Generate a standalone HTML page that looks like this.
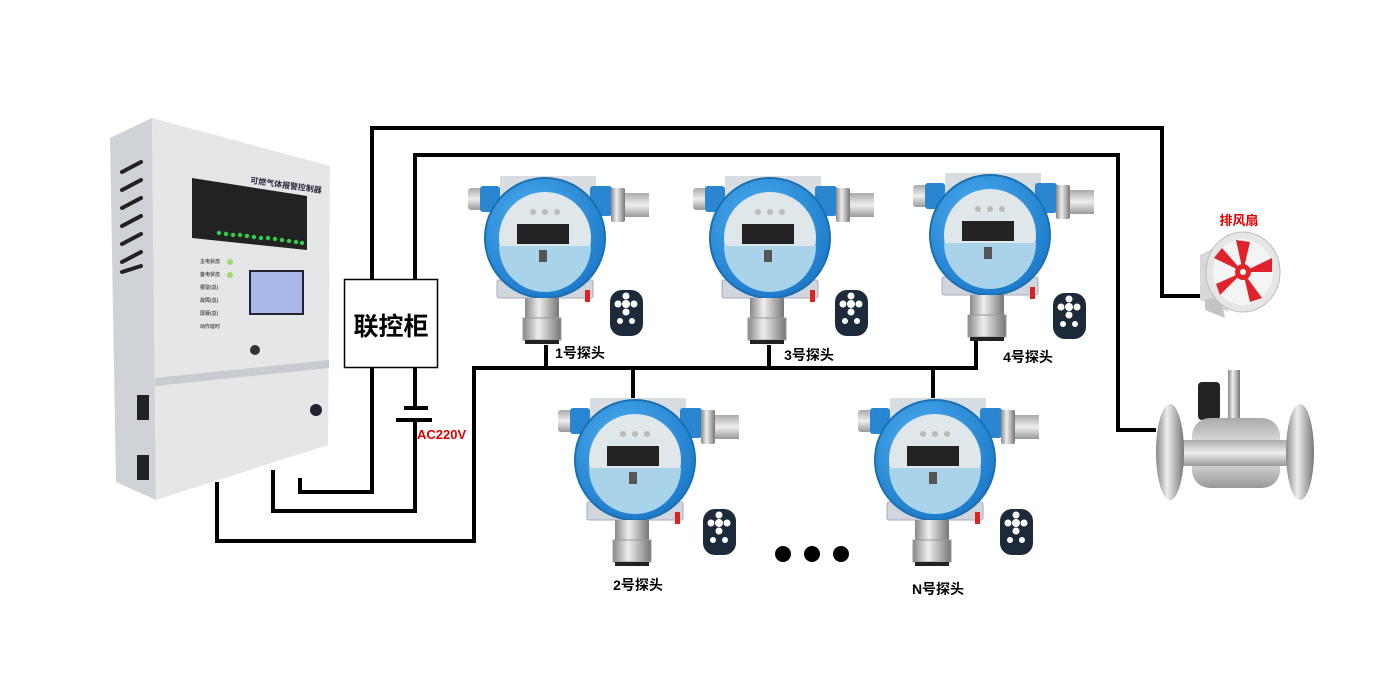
<!DOCTYPE html>
<html><head><meta charset="utf-8"><style>
html,body{margin:0;padding:0;background:#fff;}
svg{display:block;}
text{font-family:"Liberation Sans","Noto Sans CJK SC",sans-serif;font-weight:bold;}
</style></head><body>
<svg width="1400" height="700" viewBox="0 0 1400 700" xmlns="http://www.w3.org/2000/svg">
<defs>
<radialGradient id="blue" cx="0.4" cy="0.35" r="0.7"><stop offset="0" stop-color="#4fb0f0"/><stop offset="1" stop-color="#1a78c8"/></radialGradient>
<linearGradient id="metal" x1="0" x2="1"><stop offset="0" stop-color="#888"/><stop offset="0.4" stop-color="#eee"/><stop offset="1" stop-color="#777"/></linearGradient>
<linearGradient id="metalv" x1="0" y1="0" x2="0" y2="1"><stop offset="0" stop-color="#aaa"/><stop offset="0.5" stop-color="#eee"/><stop offset="1" stop-color="#999"/></linearGradient>
<g id="det">
  <rect x="-45" y="-62" width="96" height="20" fill="#d8dde2"/>
  <rect x="-48" y="42" width="96" height="18" rx="2" fill="#d0d6dc" stroke="#aab" stroke-width="1"/>
  <rect x="-77" y="-50" width="14" height="22" rx="3" fill="url(#metalv)"/>
  <rect x="-65" y="-52" width="20" height="26" rx="3" fill="#2a86d0"/>
  <rect x="45" y="-52" width="22" height="30" rx="3" fill="#2a86d0"/>
  <rect x="66" y="-50" width="14" height="34" rx="2" fill="url(#metal)"/>
  <rect x="80" y="-45" width="24" height="24" fill="url(#metalv)"/>
  <circle r="60" fill="url(#blue)" stroke="#1a6fb0" stroke-width="2"/>
  <circle r="46" fill="#dfe7ea"/>
  <path d="M-46 8 A46 46 0 0 0 46 8 Z" fill="#a9d3e8"/>
  <rect x="-28" y="-14" width="52" height="20" fill="#222"/>
  <rect x="-6" y="12" width="8" height="12" fill="#555"/>
  <circle cx="-12" cy="-26" r="3" fill="#bbb"/><circle cx="0" cy="-26" r="3" fill="#bbb"/><circle cx="12" cy="-26" r="3" fill="#bbb"/>
  <rect x="-20" y="60" width="34" height="44" fill="url(#metal)"/>
  <rect x="-22" y="80" width="38" height="22" fill="url(#metal)" stroke="#999" stroke-width="1"/>
  <rect x="-20" y="102" width="34" height="4" fill="#222"/>
  <rect x="40" y="52" width="5" height="12" fill="#d22"/>
</g>
<g id="rem">
  <rect x="0" y="0" width="33" height="46" rx="12" fill="#1d2a3a"/>
  <circle cx="16" cy="14" r="4" fill="#fff"/><circle cx="8" cy="14" r="3.5" fill="#fff"/><circle cx="24" cy="14" r="3.5" fill="#fff"/><circle cx="16" cy="6" r="3.5" fill="#fff"/><circle cx="16" cy="22" r="3.5" fill="#fff"/>
  <circle cx="10" cy="31" r="3" fill="#fff"/><circle cx="22" cy="31" r="3" fill="#fff"/>
</g>
</defs>

<polygon points="110,138 152,118 156,500 116,482" fill="#cfd2d6"/>
<polygon points="152,118 330,166 328,445 156,500" fill="#e4e6e8"/>
<polygon points="155,378 329,360 329,368 155,386" fill="#c8cbcf"/>
<g stroke="#222" stroke-width="4" stroke-linecap="round">
<line x1="122" y1="172" x2="141" y2="162"/><line x1="122" y1="190" x2="141" y2="180"/><line x1="122" y1="208" x2="141" y2="198"/><line x1="122" y1="226" x2="141" y2="216"/><line x1="122" y1="244" x2="141" y2="234"/><line x1="122" y1="262" x2="141" y2="252"/><line x1="122" y1="272" x2="141" y2="266"/>
</g>
<polygon points="192,178 307,196 307,250 192,238" fill="#222"/>
<text x="250" y="183" font-size="8" fill="#223" transform="rotate(8 250 183)">可燃气体报警控制器</text>
<g fill="#2fd04a">
<circle cx="219" cy="233" r="2.2"/><circle cx="226" cy="234" r="2.2"/><circle cx="233" cy="235" r="2.2"/><circle cx="240" cy="235" r="2.2"/><circle cx="247" cy="236" r="2.2"/><circle cx="254" cy="237" r="2.2"/><circle cx="261" cy="238" r="2.2"/><circle cx="268" cy="238" r="2.2"/><circle cx="275" cy="239" r="2.2"/><circle cx="282" cy="240" r="2.2"/><circle cx="289" cy="241" r="2.2"/><circle cx="296" cy="242" r="2.2"/><circle cx="302" cy="243" r="2.2"/>
</g>
<rect x="249" y="270" width="55" height="45" fill="#223"/>
<rect x="251" y="272" width="51" height="41" fill="#a8b8e8"/>
<circle cx="230" cy="262" r="3" fill="#9d6"/><circle cx="230" cy="275" r="3" fill="#9d6"/>
<text x="200" y="263" font-size="5" fill="#555">主电状态</text>
<text x="200" y="276" font-size="5" fill="#555">备电状态</text>
<text x="200" y="289" font-size="5" fill="#555">报警(总)</text>
<text x="200" y="302" font-size="5" fill="#555">故障(总)</text>
<text x="200" y="315" font-size="5" fill="#555">屏蔽(总)</text>
<text x="200" y="328" font-size="5" fill="#555">动作延时</text>
<circle cx="255" cy="350" r="5" fill="#333"/>
<circle cx="316" cy="410" r="6" fill="#223"/>
<rect x="137" y="395" width="12" height="25" fill="#222"/>
<rect x="137" y="455" width="12" height="25" fill="#222"/>

<g fill="none" stroke="#000" stroke-width="4">
<polyline points="300,478 300,492 372,492 372,367"/>
<polyline points="372,279 372,128 1162,128 1162,296 1202,296"/>
<polyline points="415,279 415,155 1118,155 1118,430 1156,430"/>
<polyline points="415,367 415,408"/>
<polyline points="415,420 415,511 273,511 273,470"/>
<polyline points="217,482 217,541 474,541 474,368 978,368"/>
<line x1="546" y1="345" x2="546" y2="368"/>
<line x1="769" y1="345" x2="769" y2="368"/>
<line x1="976" y1="340" x2="976" y2="368"/>
<line x1="633" y1="368" x2="633" y2="398"/>
<line x1="933" y1="368" x2="933" y2="398"/>
</g>
<rect x="404" y="406" width="24" height="4" fill="#000"/>
<rect x="396" y="418" width="36" height="4" fill="#000"/>
<text x="417" y="439" font-size="13" fill="#e00000">AC220V</text>
<rect x="344.5" y="279.5" width="93" height="88" fill="#fff" stroke="#000" stroke-width="1.5"/>
<text x="391" y="335" font-size="25" fill="#000" text-anchor="middle">联控柜</text>

<use href="#det" x="545" y="238"/>
<use href="#det" x="770" y="238"/>
<use href="#det" x="990" y="235"/>
<use href="#det" x="635" y="460"/>
<use href="#det" x="935" y="460"/>
<use href="#rem" x="610" y="290"/>
<use href="#rem" x="835" y="290"/>
<use href="#rem" x="1053" y="293"/>
<use href="#rem" x="703" y="509"/>
<use href="#rem" x="1000" y="509"/>
<text x="580" y="358" font-size="14" fill="#000" text-anchor="middle">1号探头</text>
<text x="809" y="360" font-size="14" fill="#000" text-anchor="middle">3号探头</text>
<text x="1028" y="362" font-size="14" fill="#000" text-anchor="middle">4号探头</text>
<text x="638" y="590" font-size="14" fill="#000" text-anchor="middle">2号探头</text>
<text x="938" y="594" font-size="14" fill="#000" text-anchor="middle">N号探头</text>
<circle cx="783" cy="554" r="8"/><circle cx="812" cy="554" r="8"/><circle cx="841" cy="554" r="8"/>

<text x="1239" y="225" font-size="13" fill="#e00000" text-anchor="middle">排风扇</text>
<path d="M1228 240 L1200 255 L1200 300 L1228 312 Z" fill="#d8d8d8"/>
<polygon points="1205,300 1220,296 1225,318 1205,310" fill="#c4c4c4"/>
<ellipse cx="1243" cy="272" rx="37" ry="40" fill="#e6e6e6" stroke="#bbb"/>
<ellipse cx="1243" cy="272" rx="30" ry="33" fill="#f4f4f4"/>
<g fill="#e0222a">
<path d="M1243 272 L1236 240 L1250 242 Z"/><path d="M1243 272 L1272 258 L1272 272 Z"/><path d="M1243 272 L1262 298 L1250 302 Z"/><path d="M1243 272 L1220 295 L1216 284 Z"/><path d="M1243 272 L1214 258 L1222 248 Z"/>
<circle cx="1243" cy="272" r="8"/></g>
<circle cx="1243" cy="272" r="3" fill="#fff"/>

<rect x="1198" y="382" width="22" height="38" rx="4" fill="#222"/>
<rect x="1228" y="370" width="12" height="50" fill="url(#metal)"/>
<rect x="1192" y="418" width="88" height="70" rx="18" fill="url(#metalv)"/>
<rect x="1175" y="440" width="125" height="26" fill="url(#metalv)"/>
<ellipse cx="1170" cy="452" rx="14" ry="48" fill="url(#metal)"/>
<ellipse cx="1300" cy="452" rx="14" ry="48" fill="url(#metal)"/>
</svg>
</body></html>
